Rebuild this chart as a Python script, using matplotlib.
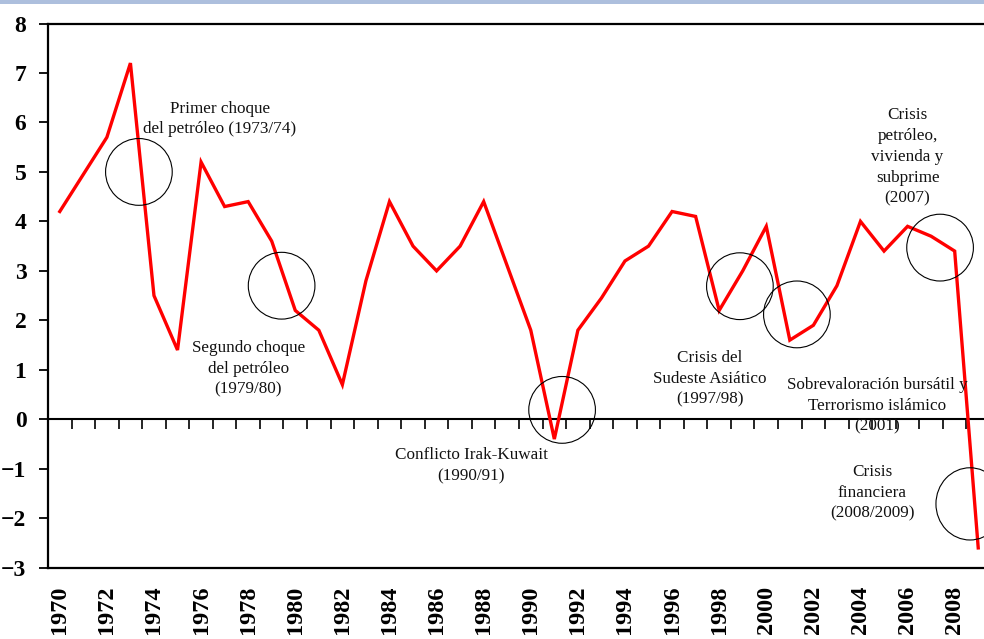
import numpy as np
import matplotlib
matplotlib.use("Agg")
import matplotlib.pyplot as plt
from matplotlib.patches import Ellipse, Rectangle

# Annual growth series, 1970-2009
years = list(range(1970, 2010))
growth = [4.2, 4.95, 5.7, 7.2, 2.5, 1.4, 5.2, 4.3, 4.4, 3.6,
          2.2, 1.8, 0.7, 2.8, 4.4, 3.5, 3.0, 3.5, 4.4, 3.1,
          1.8, -0.4, 1.8, 2.45, 3.2, 3.5, 4.2, 4.1, 2.2, 3.0,
          3.9, 1.6, 1.9, 2.7, 4.0, 3.4, 3.9, 3.7, 3.4, -2.6]

year_labels = [str(y) for y in range(1970, 2010, 2)]

# Crisis annotations: text, text anchor (year, value)
notes = [
    ("Primer choque\ndel petróleo (1973/74)", 1976.8, 6.07),
    ("Segundo choque\ndel petróleo\n(1979/80)", 1978.0, 1.02),
    ("Conflicto Irak-Kuwait\n(1990/91)", 1987.46, -0.94),
    ("Crisis del\nSudeste Asiático\n(1997/98)", 1997.6, 0.82),
    ("Sobrevaloración bursátil y\nTerrorismo islámico\n(2001)", 2004.7, 0.27),
    ("Crisis\npetróleo,\nvivienda y\nsubprime\n(2007)", 2006.0, 5.30),
    ("Crisis\nfinanciera\n(2008/2009)", 2004.5, -1.49),
]

# Circles highlighting each episode: centre year, centre value, width, height
circle_x = [1973.36, 1979.42, 1991.33, 1998.88, 2001.30, 2007.38, 2008.65]
circle_y = [5.00, 2.70, 0.19, 2.69, 2.12, 3.47, -1.71]
circle_w = [2.83, 2.83, 2.83, 2.83, 2.83, 2.83, 2.89]
circle_h = [1.35, 1.35, 1.35, 1.35, 1.35, 1.35, 1.46]

serif = ["Liberation Serif", "DejaVu Serif"]

fig = plt.figure(figsize=(9.84, 6.39), dpi=100)
fig.patches.append(Rectangle((0, 1 - 4 / 639), 1, 4 / 639, transform=fig.transFigure,
                             facecolor="#adbfdd", edgecolor="none"))

ax = fig.add_axes([48 / 984, 1 - 567.7 / 639, 942 / 984, (567.7 - 23.5) / 639])

ax.plot(years, growth, color="#ff0000", lw=2.4, solid_joinstyle="miter", zorder=3)

for cx, cy, w, h in zip(circle_x, circle_y, circle_w, circle_h):
    ax.add_patch(Ellipse((cx, cy), w, h, fill=False, edgecolor="black",
                         lw=0.8, zorder=4, clip_on=False))

for txt, tx, ty in notes:
    ax.text(tx, ty, txt, ha="center", va="center", multialignment="center",
            fontsize=12.3, family=serif, linespacing=1.4, color="#111111", zorder=5)

ax.set_xlim(1969.5, 2009.5)
ax.set_ylim(-3, 8)

ax.set_yticks(range(-3, 9))
ax.tick_params(axis="y", direction="out", length=6.5, width=1.3, pad=9)
for lab in ax.get_yticklabels():
    lab.set_fontfamily(serif)
    lab.set_fontweight("bold")
    lab.set_fontsize(17)

ax.set_xticks(range(1970, 2010, 2))
ax.set_xticklabels(year_labels, rotation=90, fontsize=17.5,
                   fontweight="bold", family=serif)
ax.tick_params(axis="x", length=0, pad=13)

for side in ["left", "bottom", "top"]:
    ax.spines[side].set_linewidth(1.6)
ax.spines["right"].set_visible(False)

# zero line with category tick marks
zero = ax.secondary_xaxis(3 / 11)
zero.set_xticks(np.arange(1969.5, 2010, 1))
zero.tick_params(direction="out", length=7, width=1.2, labelbottom=False,
                 labeltop=False)
for sp in zero.spines.values():
    sp.set_linewidth(1.5)

fig.savefig("out.png", dpi=100)
